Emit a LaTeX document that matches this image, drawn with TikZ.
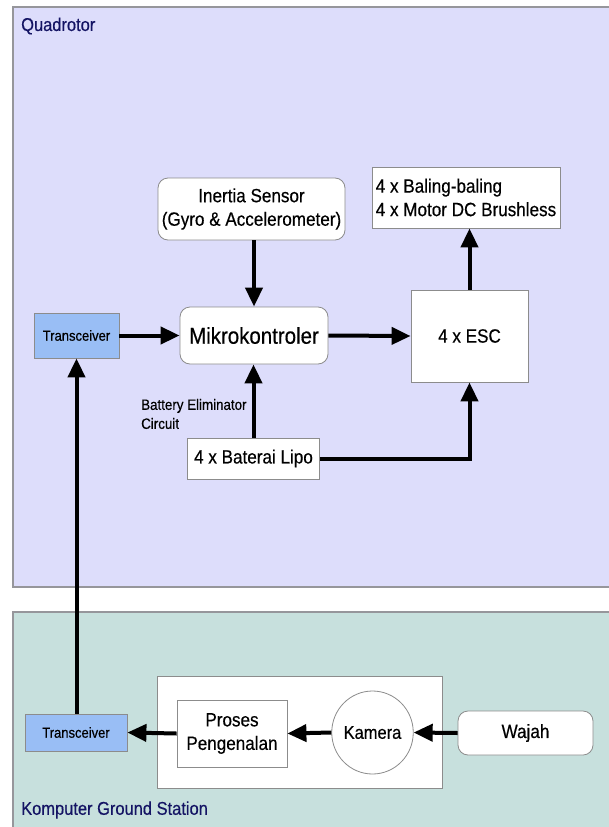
\documentclass[tikz,border=0pt]{standalone}
\usepackage{fontspec}
\setmainfont{Liberation Sans}[FakeStretch=0.89,FakeBold=0.4]
\usetikzlibrary{arrows.meta,shapes.geometric}

\definecolor{quadfill}{RGB}{221,221,251}
\definecolor{groundfill}{RGB}{199,224,221}
\definecolor{panelline}{RGB}{150,150,155}
\definecolor{boxline}{RGB}{140,140,140}
\definecolor{trxfill}{RGB}{153,190,245}
\definecolor{titlecol}{RGB}{20,20,100}

\tikzset{
  panel/.style={draw=panelline, line width=1.2pt},
  paneltitle/.style={anchor=west, inner sep=0pt, text=titlecol,
    font=\fontsize{18.5}{22}\selectfont},
  box/.style={draw=boxline, fill=white, line width=0.8pt, inner sep=0pt,
    align=center, font=\fontsize{19.2}{23.5}\selectfont},
  roundbox/.style={box, rounded corners=10pt},
  trx/.style={box, fill=trxfill, draw=boxline,
    font=\fontsize{14.6}{17}\selectfont},
  note/.style={anchor=west, inner sep=0pt, align=left,
    font=\fontsize{15}{19}\selectfont},
  flow/.style={line width=4pt, -{Triangle[length=19pt,width=17pt]}},
}

\begin{document}
\begin{tikzpicture}[x=1pt,y=-1pt]
\useasboundingbox (0,0) rectangle (609,827);
\fill[white] (0,0) rectangle (609,827);

% the two system panels
\draw[panel, fill=quadfill] (13,7) rectangle (625,587);
\draw[panel, fill=groundfill] (13,612) rectangle (625,840);
\node[paneltitle] (tquad) at (21,26) {Quadrotor};
\node[paneltitle] (tground) at (21,810) {Komputer Ground Station};

% quadrotor blocks
\node[roundbox, minimum width=187pt, minimum height=62pt] (inertia) at (251.5,209)
  {Inertia Sensor\\(Gyro \& Accelerometer)};
\node[box, minimum width=188pt, minimum height=61pt, align=left] (baling) at (466,197.5)
  {4 x Baling-baling\\4 x Motor DC Brushless};
\node[trx, minimum width=85pt, minimum height=45pt] (trxq) at (76.5,335.5) {Transceiver};
\node[roundbox, minimum width=148pt, minimum height=57pt,
  font=\fontsize{23}{26}\selectfont] (mcu) at (254,335.5) {Mikrokontroler};
\node[box, minimum width=117pt, minimum height=92pt] (esc) at (469.5,336) {4 x ESC};
\node[box, minimum width=132pt, minimum height=41pt] (lipo) at (253.5,458.5) {4 x Baterai Lipo};
\node[note] (bec) at (141,414) {Battery Eliminator\\Circuit};

% ground station blocks
\node[box, minimum width=285pt, minimum height=112pt] (pc) at (299.5,732) {};
\node[trx, minimum width=102pt, minimum height=37pt] (trxg) at (76,732.5) {Transceiver};
\node[box, minimum width=110pt, minimum height=67pt] (proses) at (232,733.5)
  {Proses\\Pengenalan};
\node[ellipse, draw=boxline, fill=white, line width=0.8pt, inner sep=0pt,
  minimum width=73pt, minimum height=83pt, font=\fontsize{18.5}{22}\selectfont]
  (kamera) at (372.5,732.5) {Kamera};
\node[roundbox, minimum width=135pt, minimum height=44pt] (wajah) at (525.5,733) {Wajah};

% signal and power flow
\draw[flow] (inertia.south -| mcu.north) -- (mcu.north);
\draw[flow] (trxq.east) -- (mcu.west);
\draw[flow] (mcu.east) -- (esc.west);
\draw[flow] (lipo.north) -- (lipo.north |- mcu.south);
\draw[flow] (lipo.east) -| (esc.south);
\draw[flow] (esc.north) -- (esc.north |- baling.south);
\draw[flow] (trxg.north -| trxq.south) -- (trxq.south);
\draw[flow] (wajah.west) -- (kamera.east);
\draw[flow] (kamera.west) -- (proses.east);
\draw[flow] (proses.west) -- (trxg.east);
\end{tikzpicture}
\end{document}
